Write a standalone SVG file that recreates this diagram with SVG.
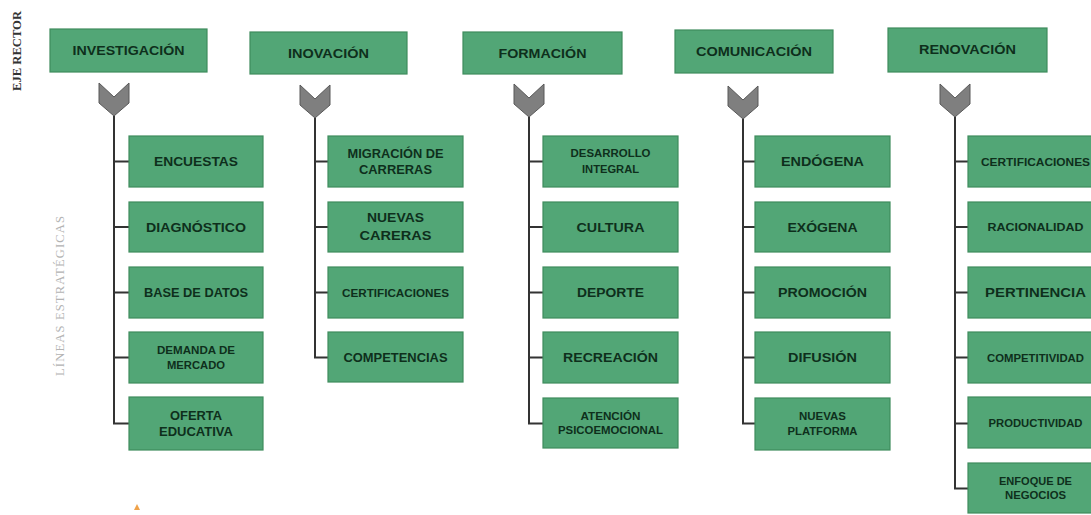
<svg xmlns="http://www.w3.org/2000/svg" width="1091" height="515" viewBox="0 0 1091 515">
<style>
.box{fill:#52a676;stroke:#3f8c5d;stroke-width:1.2}
.t{font-family:"Liberation Sans",Arial,sans-serif;font-weight:bold;fill:#0e2f1c;text-anchor:middle}
.h{font-size:13.5px}
.l{font-size:13.5px}
.k{font-size:13px}
.m{font-size:12.5px}
.s{font-size:11.2px}
.xs{font-size:10.8px}
.chev{fill:#7f7f7f;stroke:#595959;stroke-width:1}
.conn{fill:none;stroke:#333;stroke-width:2}
</style>
<defs>
<path id="chevron" class="chev" d="M-15,0 L0,14 L15,0 V20 L0,33 L-15,20 Z"/>
</defs>
<rect width="1091" height="515" fill="#fff"/>

<g id="side-labels">
<text transform="translate(21,51) rotate(-90)" text-anchor="middle" font-family="'Liberation Serif','Times New Roman',serif" font-weight="bold" font-size="12.5" fill="#333" textLength="80" lengthAdjust="spacingAndGlyphs">EJE RECTOR</text>
<text transform="translate(64,296) rotate(-90)" text-anchor="middle" font-family="'Liberation Serif','Times New Roman',serif" font-size="12.5" fill="#b3b3b3" textLength="160">LÍNEAS ESTRATÉGICAS</text>
<path d="M137,504 L140,510 L134,510 Z" fill="#f0a24a"/>
</g>

<g id="connectors">
<use href="#chevron" x="114" y="83"/>
<use href="#chevron" x="315" y="85"/>
<use href="#chevron" x="529" y="84"/>
<use href="#chevron" x="743" y="86"/>
<use href="#chevron" x="955" y="84"/>
<path class="conn" d="M114,116 V423.5 H129 M114,161.5 H129 M114,227 H129 M114,292.5 H129 M114,357.5 H129"/>
<path class="conn" d="M315,118 V357.5 H328 M315,161.5 H328 M315,227 H328 M315,292.5 H328"/>
<path class="conn" d="M529,117 V423.5 H543 M529,161.5 H543 M529,227 H543 M529,292.5 H543 M529,357.5 H543"/>
<path class="conn" d="M743,119 V423.5 H755 M743,161.5 H755 M743,227 H755 M743,292.5 H755 M743,357.5 H755"/>
<path class="conn" d="M955,117 V488.5 H968 M955,161.5 H968 M955,227 H968 M955,292.5 H968 M955,357.5 H968 M955,423.5 H968"/>
</g>

<g id="investigacion"><rect class="box" x="50" y="29" width="157" height="43"/><text class="t h" x="128.5" y="55" textLength="112" lengthAdjust="spacingAndGlyphs">INVESTIGACIÓN</text></g>
<g id="inovacion"><rect class="box" x="250" y="32" width="157" height="42"/><text class="t h" x="328.5" y="57.5" textLength="81" lengthAdjust="spacingAndGlyphs">INOVACIÓN</text></g>
<g id="formacion"><rect class="box" x="463" y="32" width="159" height="42"/><text class="t h" x="542.5" y="57.5" textLength="88" lengthAdjust="spacingAndGlyphs">FORMACIÓN</text></g>
<g id="comunicacion"><rect class="box" x="675" y="30" width="158" height="43"/><text class="t h" x="754" y="56" textLength="116" lengthAdjust="spacingAndGlyphs">COMUNICACIÓN</text></g>
<g id="renovacion"><rect class="box" x="888" y="28" width="159" height="44"/><text class="t h" x="967.5" y="54" textLength="97" lengthAdjust="spacingAndGlyphs">RENOVACIÓN</text></g>

<g id="encuestas"><rect class="box" x="129" y="136" width="134" height="51"/><text class="t l" x="196" y="166" textLength="84" lengthAdjust="spacingAndGlyphs">ENCUESTAS</text></g>
<g id="diagnostico"><rect class="box" x="129" y="202" width="134" height="50"/><text class="t l" x="196" y="231.5" textLength="100" lengthAdjust="spacingAndGlyphs">DIAGNÓSTICO</text></g>
<g id="base-datos"><rect class="box" x="129" y="267" width="134" height="51"/><text class="t m" x="196" y="297" textLength="104" lengthAdjust="spacingAndGlyphs">BASE DE DATOS</text></g>
<g id="demanda"><rect class="box" x="129" y="332" width="134" height="51"/><text class="t s" x="196" y="354" textLength="78" lengthAdjust="spacingAndGlyphs">DEMANDA DE</text><text class="t s" x="196" y="369" textLength="58" lengthAdjust="spacingAndGlyphs">MERCADO</text></g>
<g id="oferta"><rect class="box" x="129" y="397" width="134" height="53"/><text class="t m" x="196" y="419.5" textLength="52" lengthAdjust="spacingAndGlyphs">OFERTA</text><text class="t m" x="196" y="435.5" textLength="74" lengthAdjust="spacingAndGlyphs">EDUCATIVA</text></g>

<g id="migracion"><rect class="box" x="328" y="136" width="135" height="51"/><text class="t m" x="395.5" y="157.5" textLength="96" lengthAdjust="spacingAndGlyphs">MIGRACIÓN DE</text><text class="t m" x="395.5" y="173.5" textLength="73" lengthAdjust="spacingAndGlyphs">CARRERAS</text></g>
<g id="nuevas-careras"><rect class="box" x="328" y="202" width="135" height="50"/><text class="t k" x="395.5" y="222" textLength="57" lengthAdjust="spacingAndGlyphs">NUEVAS</text><text class="t k" x="395.5" y="240" textLength="72" lengthAdjust="spacingAndGlyphs">CARERAS</text></g>
<g id="certificaciones-1"><rect class="box" x="328" y="267" width="135" height="51"/><text class="t xs" x="395.5" y="296.5" textLength="107" lengthAdjust="spacingAndGlyphs">CERTIFICACIONES</text></g>
<g id="competencias"><rect class="box" x="328" y="332" width="135" height="50"/><text class="t k" x="395.5" y="361.5" textLength="104" lengthAdjust="spacingAndGlyphs">COMPETENCIAS</text></g>

<g id="desarrollo"><rect class="box" x="543" y="136" width="135" height="51"/><text class="t s" x="610.5" y="157" textLength="80" lengthAdjust="spacingAndGlyphs">DESARROLLO</text><text class="t s" x="610.5" y="173" textLength="57" lengthAdjust="spacingAndGlyphs">INTEGRAL</text></g>
<g id="cultura"><rect class="box" x="543" y="202" width="135" height="50"/><text class="t l" x="610.5" y="231.5" textLength="68" lengthAdjust="spacingAndGlyphs">CULTURA</text></g>
<g id="deporte"><rect class="box" x="543" y="267" width="135" height="51"/><text class="t l" x="610.5" y="297" textLength="67" lengthAdjust="spacingAndGlyphs">DEPORTE</text></g>
<g id="recreacion"><rect class="box" x="543" y="332" width="135" height="51"/><text class="t l" x="610.5" y="362" textLength="95" lengthAdjust="spacingAndGlyphs">RECREACIÓN</text></g>
<g id="atencion"><rect class="box" x="543" y="398" width="135" height="50"/><text class="t s" x="610.5" y="420" textLength="60" lengthAdjust="spacingAndGlyphs">ATENCIÓN</text><text class="t s" x="610.5" y="434" textLength="105" lengthAdjust="spacingAndGlyphs">PSICOEMOCIONAL</text></g>

<g id="endogena"><rect class="box" x="755" y="136" width="135" height="51"/><text class="t l" x="822.5" y="166" textLength="83" lengthAdjust="spacingAndGlyphs">ENDÓGENA</text></g>
<g id="exogena"><rect class="box" x="755" y="202" width="135" height="50"/><text class="t l" x="822.5" y="231.5" textLength="70" lengthAdjust="spacingAndGlyphs">EXÓGENA</text></g>
<g id="promocion"><rect class="box" x="755" y="267" width="135" height="51"/><text class="t l" x="822.5" y="297" textLength="89" lengthAdjust="spacingAndGlyphs">PROMOCIÓN</text></g>
<g id="difusion"><rect class="box" x="755" y="332" width="135" height="51"/><text class="t l" x="822.5" y="362" textLength="69" lengthAdjust="spacingAndGlyphs">DIFUSIÓN</text></g>
<g id="nuevas-platforma"><rect class="box" x="755" y="398" width="135" height="52"/><text class="t s" x="822.5" y="420" textLength="47" lengthAdjust="spacingAndGlyphs">NUEVAS</text><text class="t s" x="822.5" y="434.5" textLength="70" lengthAdjust="spacingAndGlyphs">PLATFORMA</text></g>

<g id="certificaciones-2"><rect class="box" x="968" y="136" width="135" height="51"/><text class="t xs" x="1035.5" y="165.5" textLength="109" lengthAdjust="spacingAndGlyphs">CERTIFICACIONES</text></g>
<g id="racionalidad"><rect class="box" x="968" y="202" width="135" height="50"/><text class="t xs" x="1035.5" y="231" textLength="96" lengthAdjust="spacingAndGlyphs">RACIONALIDAD</text></g>
<g id="pertinencia"><rect class="box" x="968" y="267" width="135" height="51"/><text class="t l" x="1035.5" y="297" textLength="101" lengthAdjust="spacingAndGlyphs">PERTINENCIA</text></g>
<g id="competitividad"><rect class="box" x="968" y="332" width="135" height="51"/><text class="t xs" x="1035.5" y="361.5" textLength="97" lengthAdjust="spacingAndGlyphs">COMPETITIVIDAD</text></g>
<g id="productividad"><rect class="box" x="968" y="397" width="135" height="51"/><text class="t xs" x="1035.5" y="427" textLength="94" lengthAdjust="spacingAndGlyphs">PRODUCTIVIDAD</text></g>
<g id="enfoque"><rect class="box" x="968" y="463" width="135" height="50"/><text class="t s" x="1035.5" y="484.5" textLength="73" lengthAdjust="spacingAndGlyphs">ENFOQUE DE</text><text class="t s" x="1035.5" y="498.5" textLength="61" lengthAdjust="spacingAndGlyphs">NEGOCIOS</text></g>
</svg>
